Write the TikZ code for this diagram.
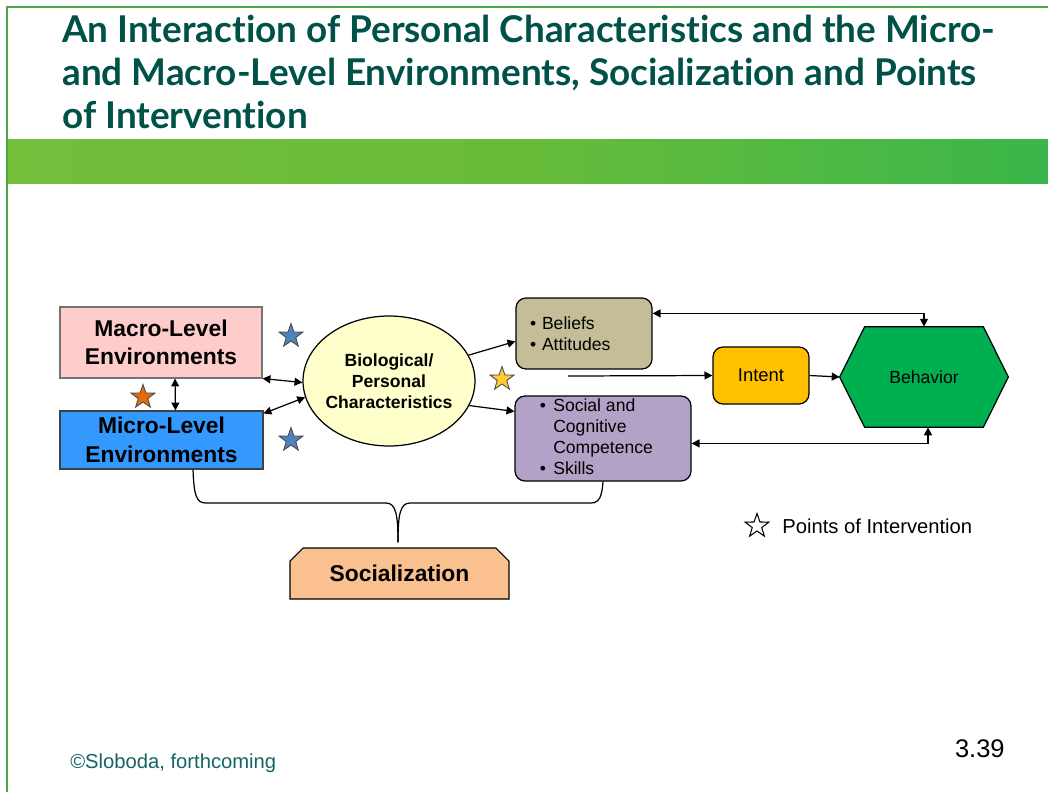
\documentclass[tikz,border=0pt]{standalone}
\usepackage{fontspec}
\setmainfont{Liberation Sans}
\newfontfamily\titlefont{Lato}[Ligatures={NoCommon,NoRare,NoContextual}]
\usetikzlibrary{arrows.meta,shapes.geometric,shapes.misc,calc}
\definecolor{titlegreen}{RGB}{0,82,72}
\definecolor{framegreen}{RGB}{76,168,72}
\definecolor{bandL}{RGB}{116,190,60}
\definecolor{bandM}{RGB}{104,188,58}
\definecolor{bandR}{RGB}{58,182,74}
\definecolor{macrofill}{RGB}{255,204,204}
\definecolor{microfill}{RGB}{51,153,255}
\definecolor{biofill}{RGB}{255,255,204}
\definecolor{belfill}{RGB}{196,189,151}
\definecolor{socfill}{RGB}{179,162,199}
\definecolor{intfill}{RGB}{255,192,0}
\definecolor{behfill}{RGB}{0,176,80}
\definecolor{socialfill}{RGB}{250,192,144}
\definecolor{starblue}{RGB}{79,129,189}
\definecolor{starorange}{RGB}{228,108,10}
\definecolor{stargold}{RGB}{255,204,51}
\definecolor{foot}{RGB}{20,100,100}
\tikzset{
  envbox/.style={rectangle, inner sep=0pt, font=\bfseries\fontsize{13}{16.2}\selectfont, align=center},
  roundbox/.style={rectangle, rounded corners=0.2cm, draw=black, line width=0.7pt, font=\fontsize{10}{12}\selectfont},
  arr/.style={-{Triangle[length=4.5pt,width=4.5pt]}, line width=0.7pt},
  darr/.style={{Triangle[length=4.5pt,width=4.5pt]}-{Triangle[length=4.5pt,width=4.5pt]}, line width=0.7pt},
  istar/.style={star, star points=5, star point ratio=2.5, minimum size=0.5cm, inner sep=0pt, draw=black!70, line width=0.5pt},
}
\begin{document}
\begin{tikzpicture}[x=0.02cm,y=-0.02cm]
\useasboundingbox (0,0) rectangle (1048,792);
% frame and band
\draw[framegreen, line width=1.2pt] (7,792) -- (7,7) -- (1048,7);
\shade[left color=bandL, right color=bandR, middle color=bandM] (8,139) rectangle (1048,183);
% title
\begin{scope}[every node/.style={anchor=base west, text=titlegreen, font=\titlefont\bfseries\fontsize{21}{24}\selectfont, inner sep=0pt}]
\node (t1) at (62,42) {An Interaction of Personal Characteristics and the Micro-};
\node (t2) at (62,85) {and Macro-Level Environments, Socialization and Points};
\node (t3) at (62,128) {of Intervention};
\end{scope}
% nodes
\node[envbox, fill=macrofill, draw=black!55, line width=0.6pt, minimum width=4.04cm, minimum height=1.42cm] (mac) at (161,342.5) {Macro-Level\\Environments};
\node[envbox, fill=microfill, draw=black!75, line width=0.6pt, minimum width=4.06cm, minimum height=1.16cm] (mic) at (161.5,440) {Micro-Level\\Environments};
\node[ellipse, fill=biofill, draw=black, line width=0.7pt, minimum width=3.44cm, minimum height=2.6cm, inner sep=0pt] (bio) at (389,381) {};
\node[font=\bfseries\fontsize{10}{12}\selectfont, align=center, inner sep=0pt] (biotext) at (bio.center) {Biological/\\Personal\\Characteristics};
\node[roundbox, fill=belfill, minimum width=2.72cm, minimum height=1.42cm, text width=2.16cm, inner xsep=0.28cm, align=left] (bel) at (584,333.5) {• Beliefs\\• Attitudes};
\node[roundbox, fill=socfill, minimum width=3.52cm, minimum height=1.7cm, inner xsep=0pt, inner ysep=0pt] (soc) at (603,438.5) {};
\node[anchor=west, inner sep=0pt, font=\fontsize{10}{12}\selectfont] (soctext) at ($(soc.west)+(25,0)$) {\begin{tabular}{@{}l@{\hspace{4.2pt}}l@{}}•&Social and\\ &Cognitive\\ &Competence\\•&Skills\end{tabular}};
\node[roundbox, fill=intfill, minimum width=1.92cm, minimum height=1.14cm, font=\fontsize{10.5}{12}\selectfont] (int) at (761,375.5) {Intent};
\path node[rectangle, minimum width=2.36cm, minimum height=2cm, inner sep=0pt] (beh) at (924,377) {};
\coordinate (behL) at ($(beh.west)+(-25,0)$);
\coordinate (behR) at ($(beh.east)+(25,0)$);
\filldraw[fill=behfill, draw=black, line width=0.7pt] (beh.north west) -- (beh.north east) -- (behR) -- (beh.south east) -- (beh.south west) -- (behL) -- cycle;
\node[font=\fontsize{10}{12}\selectfont] (behtext) at (beh.center) {Behavior};
\node[chamfered rectangle, chamfered rectangle corners={north west,north east}, chamfered rectangle xsep=0.1cm, chamfered rectangle ysep=0.16cm, fill=socialfill, draw=black, line width=0.6pt, minimum width=4.38cm, minimum height=1.02cm, inner sep=0pt, font=\bfseries\fontsize{13}{16}\selectfont] (socz) at (399.5,573.5) {Socialization};
% stars
\node[istar, fill=starblue] (s1) at (291,336) {};
\node[istar, fill=starblue] (s2) at (291,440) {};
\node[istar, fill=starorange] (s3) at (143,397) {};
\node[istar, fill=stargold] (s4) at (502,379) {};
% connectors
\draw[darr] ($(mac.south)+(14,0)$) -- ($(mic.north)+(14,0)$);
\draw[darr] (mac.south east) -- (bio.181);
\draw[darr] ($(mic.north east)+(0,3)$) -- (bio.191);
\draw[arr] (bio.18) -- ($(bel.north west)+(0,44)$);
\draw[arr] (bio.343) -- ($(soc.north west)+(0,16)$);
\coordinate (istart) at (568,376);
\draw[arr] (istart) -- (int.west);
\draw[arr] (int.east) -- (behL);
\draw[darr] ($(bel.north east)+(0,16)$) -| (beh.north);
\draw[darr] ($(soc.north east)+(0,48)$) -| ($(beh.south)+(4,0)$);
% brace
\coordinate (brtip) at ($(socz.north)+(-1.5,-5)$);
\draw[line width=0.7pt] ($(mic.south)+(31.5,0)$) .. controls (194,495) and (196,503) .. (206,503) -- (386,503) .. controls (396,503) and (398,515) .. (brtip);
\draw[line width=0.7pt] (soc.south) .. controls (602,495) and (600,503) .. (591,503) -- (410,503) .. controls (400,503) and (398,515) .. (brtip);
% legend
\node[istar, fill=white, draw=black, line width=0.6pt] (ls) at (757,526) {};
\node[anchor=west, inner sep=0pt, font=\fontsize{11.5}{14}\selectfont] (lt) at (782,526) {Points of Intervention};
% footer
\node[anchor=base west, inner sep=0pt, text=foot, font=\fontsize{11.5}{14}\selectfont] (ft) at (70,768) {©Sloboda, forthcoming};
\node[anchor=base east, inner sep=0pt, font=\fontsize{14.5}{17}\selectfont] (pg) at (1005,757) {3.39};
\end{tikzpicture}
\end{document}
